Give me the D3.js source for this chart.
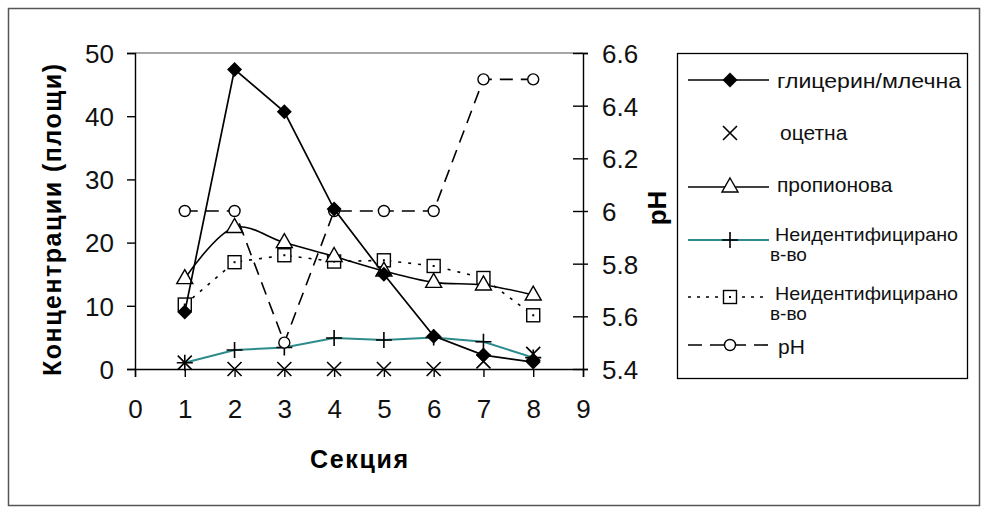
<!DOCTYPE html>
<html><head><meta charset="utf-8">
<script src="https://cdn.jsdelivr.net/npm/d3@7"></script>
<style>body{margin:0;background:#fff}svg{display:block;font-family:"Liberation Sans",Arial,sans-serif}</style>
</head><body><svg id="c" width="981" height="507"></svg>
<script>
const sections = [1,2,3,4,5,6,7,8];
const glycerin = [9.0,47.4,40.7,25.3,15.0,5.2,2.2,1.1];
const acetic = [1.0,0,0,0,0,0,1.2,2.4];
const propionic = [14.3,22.4,20.0,17.8,15.5,13.7,13.3,11.7];
const unknown1 = [1.0,3.0,3.4,4.9,4.6,5.0,4.3,1.8];
const unknown2 = [10.2,16.9,18.0,17.0,17.2,16.3,14.4,8.5];
const ph = [6.0,6.0,5.5,6.0,6.0,6.0,6.5,6.5];
const xTicks = [0,1,2,3,4,5,6,7,8,9];
const yTicks = [0,10,20,30,40,50];
const phTicks = [5.4,5.6,5.8,6.0,6.2,6.4,6.6];
const phTickLabels = ["5.4","5.6","5.8","6","6.2","6.4","6.6"];
const legendLabels = [["глицерин/млечна"],["оцетна"],["пропионова"],["Неидентифицирано","в-во"],["Неидентифицирано","в-во"],["pH"]];

const svg = d3.select("#c");
svg.append("rect").attr("x",8.5).attr("y",8.5).attr("width",971).attr("height",497)
  .attr("fill","#fff").attr("stroke","#555").attr("stroke-width",1.5);

const L=135,R=583,T=53,B=369;
const x = d3.scaleLinear().domain([0,9]).range([L,R]);
const y = d3.scaleLinear().domain([0,50]).range([B,T]);
const y2 = d3.scaleLinear().domain([5.4,6.6]).range([B,T]);

svg.append("line").attr("x1",L).attr("x2",R).attr("y1",T).attr("y2",T).attr("stroke","#888").attr("stroke-width",1.5);

const fs = 26;
const gx = svg.append("g").attr("transform",`translate(0,${B})`)
  .call(d3.axisBottom(x).tickValues(xTicks).tickFormat(d3.format("d")).tickSizeOuter(0).tickSize(8));
gx.selectAll("text").attr("y",49).attr("dy",0);
const gy = svg.append("g").attr("transform",`translate(${L},0)`)
  .call(d3.axisLeft(y).tickValues(yTicks).tickSizeOuter(0).tickSize(8));
gy.selectAll("text").attr("x",-21).attr("dy","0.36em");
const gy2 = svg.append("g").attr("transform",`translate(${R},0)`)
  .call(d3.axisRight(y2).tickValues(phTicks).tickFormat((d,i)=>phTickLabels[i]).tickSizeOuter(0).tickSize(5));
gy2.selectAll(".tick line").attr("x1",-10);
gy2.selectAll("text").attr("x",19).attr("dy","0.36em");
[gx,gy,gy2].forEach(g=>{
  g.selectAll("path,line").attr("stroke","#000").attr("stroke-width",1.4);
  g.selectAll("text").attr("font-size",fs).attr("fill","#111").attr("font-family","Liberation Sans, Arial, sans-serif");
});

svg.append("text").attr("x",359).attr("y",468).attr("text-anchor","middle")
  .attr("font-size",25).attr("font-weight","bold").attr("textLength",98).attr("lengthAdjust","spacing").text("Секция");
svg.append("text").attr("transform","translate(61,220) rotate(-90)").attr("text-anchor","middle")
  .attr("font-size",25).attr("font-weight","bold").attr("textLength",312).attr("lengthAdjust","spacing").text("Концентрации (площи)");
svg.append("text").attr("transform","translate(666,208) rotate(-90)").attr("text-anchor","middle")
  .attr("font-size",26).attr("font-weight","bold").text("pH");

function marker(g, type, cx, cy){
  if(type==="diamond") g.append("path").attr("d",`M${cx},${cy-7.5}L${cx+7.5},${cy}L${cx},${cy+7.5}L${cx-7.5},${cy}Z`).attr("fill","#000");
  if(type==="x") g.append("path").attr("d",`M${cx-7},${cy-7}L${cx+7},${cy+7}M${cx-7},${cy+7}L${cx+7},${cy-7}`).attr("stroke","#000").attr("stroke-width",1.6);
  if(type==="tri") g.append("path").attr("d",`M${cx},${cy-9}L${cx+8},${cy+5}L${cx-8},${cy+5}Z`).attr("fill","#fff").attr("stroke","#000").attr("stroke-width",1.4);
  if(type==="plus") g.append("path").attr("d",`M${cx-8},${cy}L${cx+8},${cy}M${cx},${cy-8}L${cx},${cy+8}`).attr("stroke","#000").attr("stroke-width",1.6);
  if(type==="square") { g.append("rect").attr("x",cx-6.5).attr("y",cy-6.5).attr("width",13).attr("height",13).attr("fill","#fff").attr("stroke","#000").attr("stroke-width",1.4);
    g.append("rect").attr("x",cx-1).attr("y",cy-1).attr("width",2).attr("height",2).attr("fill","#000"); }
  if(type==="circle") g.append("circle").attr("cx",cx).attr("cy",cy).attr("r",5.5).attr("fill","#fff").attr("stroke","#000").attr("stroke-width",1.4);
}

const teal = "#2e8b8b";
const series = [
  {vals:unknown2, sc:y, stroke:"#000", dash:"3,7", width:1.6, curve:d3.curveLinear, m:"square"},
  {vals:propionic, sc:y, stroke:"#000", dash:null, width:1.6, curve:d3.curveCatmullRom, m:"tri"},
  {vals:unknown1, sc:y, stroke:teal, dash:null, width:2, curve:d3.curveLinear, m:"plus"},
  {vals:ph, sc:y2, stroke:"#000", dash:"13,8", width:1.6, curve:d3.curveLinear, m:"circle"},
  {vals:glycerin, sc:y, stroke:"#000", dash:null, width:1.7, curve:d3.curveLinear, m:"diamond"},
  {vals:acetic, sc:y, stroke:null, m:"x"}
];
series.forEach(s=>{
  const g = svg.append("g");
  if(s.stroke){
    g.append("path").datum(s.vals).attr("fill","none").attr("stroke",s.stroke).attr("stroke-width",s.width)
      .attr("stroke-dasharray",s.dash)
      .attr("d",d3.line().x((d,i)=>x(sections[i])).y(d=>s.sc(d)).curve(s.curve));
  }
  s.vals.forEach((v,i)=>marker(g,s.m,x(sections[i]),s.sc(v)));
});

const lg = svg.append("g");
lg.append("rect").attr("x",677.5).attr("y",53.5).attr("width",290).attr("height",325).attr("fill","#fff").attr("stroke","#000").attr("stroke-width",1.3);
const legRows = [
  {y:80, m:"diamond", stroke:"#000", dash:null, tx:[777], ty:[88], tl:[184], f:21},
  {y:133, m:"x", stroke:null, tx:[780], ty:[140], tl:[null], f:21},
  {y:187, m:"tri", stroke:"#000", dash:null, tx:[777], ty:[192], tl:[null], f:21},
  {y:240, m:"plus", stroke:teal, dash:null, tx:[775,770], ty:[241,261], tl:[183,null], f:19},
  {y:297, m:"square", stroke:"#000", dash:"3,6", tx:[775,770], ty:[300,320], tl:[183,null], f:19},
  {y:345, m:"circle", stroke:"#000", dash:"14,8", tx:[778], ty:[354], tl:[null], f:21}
];
legRows.forEach((r,i)=>{
  if(r.stroke) lg.append("line").attr("x1",688).attr("x2",769).attr("y1",r.y).attr("y2",r.y)
    .attr("stroke",r.stroke).attr("stroke-width",r.stroke==="#000"?1.6:2).attr("stroke-dasharray",r.dash);
  marker(lg,r.m,730,r.y);
  legendLabels[i].forEach((t,j)=>{
    const tt = lg.append("text").attr("x",r.tx[j]).attr("y",r.ty[j]).attr("font-size",r.f).attr("fill","#111").text(t);
    if(r.tl[j]) tt.attr("textLength",r.tl[j]).attr("lengthAdjust","spacingAndGlyphs");
  });
});
</script></body></html>
